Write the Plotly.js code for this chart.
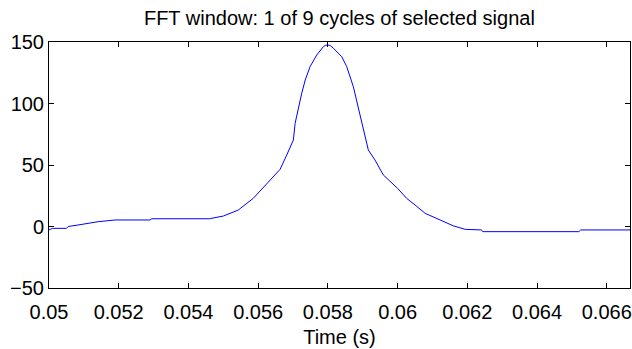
<!DOCTYPE html>
<html>
<head>
<meta charset="utf-8">
<script src="https://cdn.plot.ly/plotly-3.0.1.min.js"></script>
<style>html,body{margin:0;padding:0;background:#fff;}#chart{width:632px;height:349px;}</style>
</head>
<body>
<div id="chart"></div>
<script>
var timeS = [0.05, 0.0501, 0.0505, 0.05055, 0.05083, 0.05112, 0.05141, 0.0519, 0.0529, 0.05295, 0.0546,
  0.0550, 0.05543, 0.05586, 0.05629, 0.05663, 0.05682, 0.05701, 0.05706, 0.05716, 0.05725, 0.05735,
  0.05749, 0.05768, 0.05787, 0.05794, 0.0580, 0.05807, 0.05816, 0.0584, 0.05854, 0.05873, 0.05892, 0.05907, 0.05916,
  0.05935, 0.05959, 0.06, 0.06026, 0.0605, 0.06079, 0.06122, 0.0616, 0.06194, 0.0624, 0.06245,
  0.0652, 0.06525, 0.0666667];
var signal = [-2.8, -1.5, -1.5, 0, 1.2, 2.6, 3.9, 5.3, 5.3, 6.3, 6.3,
  8.5, 13.4, 22.9, 36.4, 46.5, 58.1, 70.3, 83.9, 97.4, 108.3, 119.1,
  130, 139.4, 146.2, 147.4, 147.6, 147.1, 144.9, 138, 130, 113.7, 92, 73, 62.2,
  54.1, 41.9, 31, 22.9, 17.5, 10.7, 5.3, 0.5, -2.3, -2.8, -4.2,
  -4.2, -2.8, -2.8];
var xTickVals = [0.05, 0.052, 0.054, 0.056, 0.058, 0.06, 0.062, 0.064, 0.066];
var xTickText = ['0.05', '0.052', '0.054', '0.056', '0.058', '0.06', '0.062', '0.064', '0.066'];
var yTickVals = [-50, 0, 50, 100, 150];

var font = {family: 'Liberation Sans, Arial, sans-serif', size: 20, color: '#000'};
var axisCommon = {
  showgrid: false, zeroline: false, showline: true, linecolor: '#000', linewidth: 1,
  mirror: 'ticks', ticks: 'inside', ticklen: 5, tickwidth: 1, tickcolor: '#000',
  tickfont: font
};
var layout = Object.assign({
  width: 632, height: 349,
  margin: {l: 49, r: 2, t: 42, b: 61},
  paper_bgcolor: '#fff', plot_bgcolor: '#fff',
  showlegend: false,
  font: font,
  title: {text: 'FFT window: 1 of 9 cycles of selected signal', font: font,
    x: 0.537, xanchor: 'center', y: 1 - 18 / 349, yanchor: 'middle', yref: 'container'},
  xaxis: Object.assign({}, axisCommon, {
    range: [0.05, 0.0666667], tickmode: 'array', tickvals: xTickVals, ticktext: xTickText,
    ticklabelstandoff: 6,
    title: {text: 'Time (s)', font: font, standoff: 7}
  }),
  yaxis: Object.assign({}, axisCommon, {
    range: [-50, 150], tickmode: 'array', tickvals: yTickVals
  })
});
var data = [{x: timeS, y: signal, type: 'scatter', mode: 'lines',
  line: {color: '#0000ff', width: 1}, hoverinfo: 'none'}];
Plotly.newPlot('chart', data, layout, {displayModeBar: false, staticPlot: true});
</script>
</body>
</html>
